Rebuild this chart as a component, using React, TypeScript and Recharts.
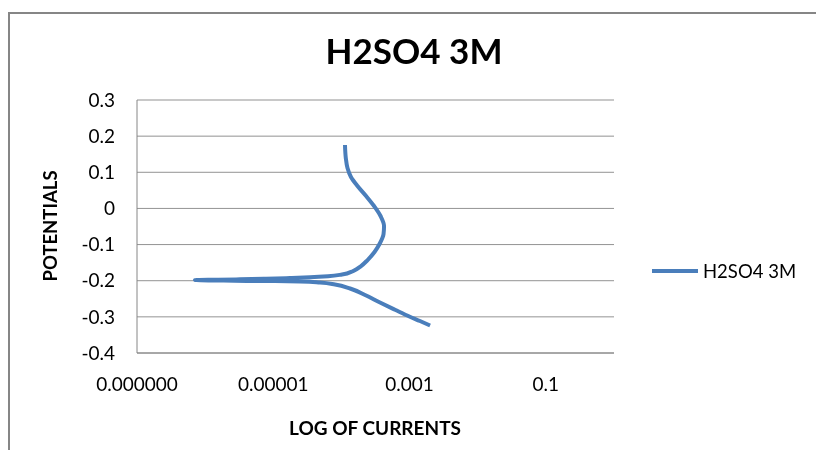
import { CartesianGrid, Legend, Line, LineChart, XAxis, YAxis } from 'recharts'

// polarization curve, ordered along the potential sweep (cathodic end first)
const currents = [
  2.0e-3, 1.42e-3, 1.01e-3, 6.11e-4, 3.68e-4, 2.22e-4, 1.34e-4, 8.05e-5, 4.85e-5,
  2.47e-5, 1.06e-5, 4.07e-6, 1.55e-6, 7.1e-7, 1.55e-6, 3.25e-6, 7.82e-6, 1.76e-5,
  3.46e-5, 6.35e-5, 1.02e-4, 1.48e-4, 1.94e-4, 2.42e-4, 3.06e-4, 3.62e-4, 4.15e-4,
  4.22e-4, 3.75e-4, 3.01e-4, 2.3e-4, 1.72e-4, 1.38e-4, 1.227e-4, 1.159e-4, 1.128e-4,
]
const potentials = [
  -0.324, -0.3115, -0.2996, -0.2802, -0.2603, -0.2396, -0.2216, -0.2105, -0.205,
  -0.2019, -0.201, -0.2005, -0.1994, -0.198, -0.1972, -0.1961, -0.1945, -0.1925,
  -0.1906, -0.1878, -0.1828, -0.1732, -0.1594, -0.1428, -0.1206, -0.0985, -0.0708,
  -0.0487, -0.021, 0.0066, 0.0343, 0.062, 0.0869, 0.1118, 0.1395, 0.1755,
]

const xTicks = [1e-7, 1e-5, 1e-3, 1e-1]
const xTickLabels = ['0.000000', '0.00001', '0.001', '0.1']
const yTicks = [-0.4, -0.3, -0.2, -0.1, 0, 0.1, 0.2, 0.3]

const seriesName = 'H2SO4 3M'
const blue = '#4A7EBB'
const grey = '#868686'
const font = 'Lato, "Open Sans", sans-serif'

const data = currents.map((c, i) => ({ current: c, potential: potentials[i] }))

const LegendBox = () => (
  <div style={{ display: 'flex', alignItems: 'center', fontFamily: font, fontSize: 18.5, color: '#000' }}>
    <svg width={46} height={6}>
      <line x1={0} y1={3} x2={46} y2={3} stroke={blue} strokeWidth={4} />
    </svg>
    <span style={{ marginLeft: 5, whiteSpace: 'nowrap' }}>{seriesName}</span>
  </div>
)

export default function App() {
  return (
    <>
      <style>{'body { overflow: hidden; }'}</style>
      <div
        style={{
          position: 'fixed',
          left: 8,
          top: 12,
          width: 900,
          height: 436,
          borderTop: `2px solid ${grey}`,
          borderLeft: `2px solid ${grey}`,
          overflow: 'hidden',
          fontFamily: font,
        }}
      >
        <LineChart
          width={806}
          height={436}
          data={data}
          margin={{ top: 86, right: 202, left: 47, bottom: 37 }}
        >
          <CartesianGrid vertical={false} stroke={grey} strokeOpacity={0.9} />
          <XAxis
            dataKey="current"
            type="number"
            scale="log"
            domain={[1e-7, 1]}
            allowDataOverflow
            ticks={xTicks}
            tickFormatter={(v: number) => xTickLabels[xTicks.indexOf(v)] ?? ''}
            tickLine={false}
            tickSize={0}
            tickMargin={25}
            axisLine={{ stroke: grey }}
            tick={{ fill: '#000', fontSize: 19, fontFamily: font }}
            height={60}
          />
          <YAxis
            dataKey="potential"
            type="number"
            domain={[-0.4, 0.3]}
            ticks={yTicks}
            tickFormatter={(v: number) => String(Math.round(v * 10) / 10)}
            tickLine={false}
            tickSize={0}
            tickMargin={22}
            axisLine={{ stroke: grey }}
            tick={{ fill: '#000', fontSize: 19, fontFamily: font }}
            width={80}
          />
          <Legend
            layout="horizontal"
            align="center"
            verticalAlign="middle"
            content={<LegendBox />}
            wrapperStyle={{ left: 642, top: 246, width: 156 }}
          />
          <Line
            name={seriesName}
            type="monotoneY"
            dataKey="potential"
            stroke={blue}
            strokeWidth={4}
            dot={false}
            activeDot={false}
            isAnimationActive={false}
          />
          <text x={404} y={50} textAnchor="middle" fontFamily={font} fontWeight="bold" fontSize={35} fill="#000">
            {seriesName}
          </text>
          <text x={365} y={421} textAnchor="middle" fontFamily={font} fontWeight="bold" fontSize={19} fill="#000">
            LOG OF CURRENTS
          </text>
          <text
            x={47}
            y={212}
            transform="rotate(-90, 47, 212)"
            textAnchor="middle"
            fontFamily={font}
            fontWeight="bold"
            fontSize={18.5}
            fill="#000"
          >
            POTENTIALS
          </text>
        </LineChart>
      </div>
    </>
  )
}
